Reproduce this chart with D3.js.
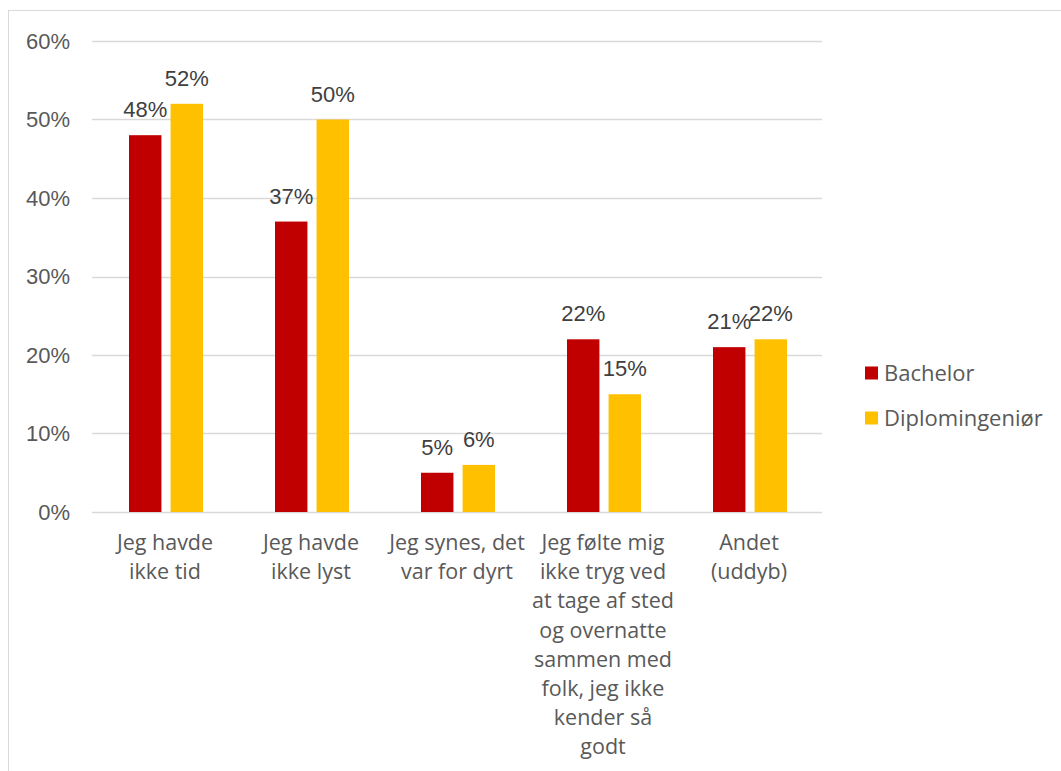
<!DOCTYPE html>
<html><head><meta charset="utf-8">
<script src="https://cdn.jsdelivr.net/npm/d3@7"></script>
<style>body{margin:0;background:#fff}</style>
</head><body>
<svg id="c" width="1061" height="771"></svg>
<script>
const categories = [
  ["Jeg havde","ikke tid"],
  ["Jeg havde","ikke lyst"],
  ["Jeg synes, det","var for dyrt"],
  ["Jeg følte mig","ikke tryg ved","at tage af sted","og overnatte","sammen med","folk, jeg ikke","kender så","godt"],
  ["Andet","(uddyb)"]
];
const seriesNames = ["Bachelor","Diplomingeniør"];
const bachelor = [0.48, 0.37, 0.05, 0.22, 0.21];
const diplom = [0.52, 0.50, 0.06, 0.15, 0.22];
const yTicks = [0, 0.1, 0.2, 0.3, 0.4, 0.5, 0.6];
const colors = ["#C00000", "#FFC000"];

const svg = d3.select("#c");
svg.append("rect").attr("x",8.5).attr("y",10.5).attr("width",1070).attr("height",800)
  .attr("fill","#fff").attr("stroke","#d9d9d9");

const pLeft=92, pRight=822, pTop=41, pBottom=512;
const keys = categories.map((c,i)=>i);
const x0 = d3.scaleBand().domain(keys).range([pLeft,pRight]);
const x1 = d3.scaleBand().domain(seriesNames).range([37,111]).paddingInner(0.22);
const y = d3.scaleLinear().domain([0,0.6]).range([pBottom,pTop]);

const numFont = "'Liberation Sans', Arial, sans-serif";
const txtFont = "'Open Sans', 'Noto Sans', sans-serif";

svg.append("g").selectAll("line").data(yTicks).join("line")
  .attr("x1",pLeft).attr("x2",pRight)
  .attr("y1",d=>Math.round(y(d))+0.5).attr("y2",d=>Math.round(y(d))+0.5)
  .attr("stroke","#d9d9d9").attr("stroke-width",1.3);

const yAxis = d3.axisLeft(y).tickValues(yTicks).tickFormat(d3.format(".0%")).tickSize(0).tickPadding(0);
const ya = svg.append("g").attr("transform",`translate(70,0)`).call(yAxis);
ya.select(".domain").remove();
ya.selectAll("text").attr("font-family",numFont).attr("font-size",22).attr("fill","#595959");

const data = seriesNames.map((s,si)=>({name:s, values: si===0?bachelor:diplom, color: colors[si]}));

data.forEach(s=>{
  const g = svg.append("g");
  g.selectAll("rect").data(s.values).join("rect")
    .attr("x",(d,i)=>x0(i)+x1(s.name))
    .attr("width",x1.bandwidth())
    .attr("y",d=>y(d)).attr("height",d=>pBottom-y(d))
    .attr("fill",s.color);
  g.selectAll("text").data(s.values).join("text")
    .attr("x",(d,i)=>x0(i)+x1(s.name)+x1.bandwidth()/2)
    .attr("y",d=>y(d)-18)
    .attr("text-anchor","middle")
    .attr("font-family",numFont).attr("font-size",22).attr("fill","#404040")
    .text(d=>d3.format(".0%")(d));
});

const cg = svg.append("g");
categories.forEach((lines,i)=>{
  const t = cg.append("text")
    .attr("x",x0(i)+x0.bandwidth()/2)
    .attr("y",550)
    .attr("text-anchor","middle")
    .attr("font-family",txtFont).attr("font-size",21.5).attr("fill","#595959");
  lines.forEach((l,j)=>t.append("tspan").attr("x",x0(i)+x0.bandwidth()/2).attr("y",550+j*29.2).text(l));
});

const lg = svg.append("g");
seriesNames.forEach((s,i)=>{
  const yy = 373 + i*45;
  lg.append("rect").attr("x",865).attr("y",yy-6.5).attr("width",13).attr("height",13).attr("fill",colors[i]);
  lg.append("text").attr("x",884).attr("y",yy).attr("dy","0.35em")
    .attr("font-family",txtFont).attr("font-size",22).attr("fill","#595959").text(s);
});
</script>
</body></html>
